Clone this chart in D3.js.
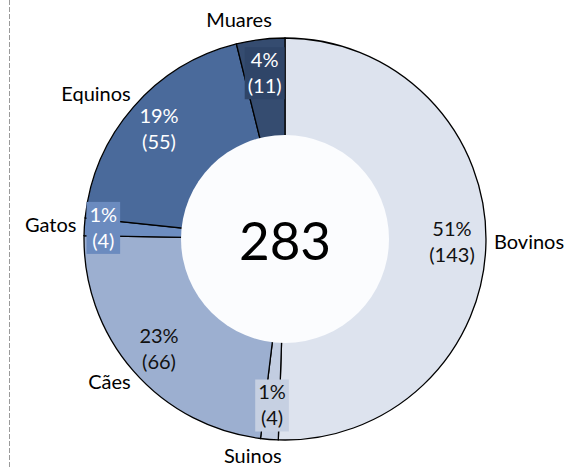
<!DOCTYPE html>
<html>
<head>
<meta charset="utf-8">
<script src="https://cdn.jsdelivr.net/npm/d3@7"></script>
<style>
  body { margin: 0; background: #fff; }
  svg { display: block; font-family: Lato, "Open Sans", sans-serif; }
</style>
</head>
<body>
<svg width="567" height="469"></svg>
<script>
// values, clockwise from 12 o'clock
var categories = ["Bovinos", "Suinos", "Cães", "Gatos", "Equinos", "Muares"];
var values = [143, 4, 66, 4, 55, 11];
var sliceColors = ["#dde3ee", "#c2cde1", "#9cafd0", "#6d8dc0", "#4a6a9b", "#354c70"];
var boxColors = ["none", "#c6d0e2", "none", "#6b8bbf", "none", "#2f4568"];
var textColors = ["#111", "#111", "#111", "#fff", "#fff", "#fff"];

var width = 567, height = 469;
var cx = 285, cy = 239, outerR = 201, innerR = 104;
var total = d3.sum(values);

var svg = d3.select("svg");

// dashed border on the left
svg.append("line")
  .attr("x1", 9.5).attr("x2", 9.5)
  .attr("y1", 0).attr("y2", height)
  .attr("stroke", "#9a9a9a")
  .attr("stroke-width", 1)
  .attr("stroke-dasharray", "5,2");

var data = categories.map(function(c, i) { return { name: c, value: values[i], i: i }; });

var pie = d3.pie().sort(null).value(function(d) { return d.value; });
var arcs = pie(data);

var arc = d3.arc().innerRadius(innerR - 4).outerRadius(outerR);
var labelArc = d3.arc().innerRadius(167).outerRadius(167);

var g = svg.append("g").attr("transform", "translate(" + cx + "," + cy + ")");

g.selectAll("path.slice")
  .data(arcs)
  .enter()
  .append("path")
  .attr("class", "slice")
  .attr("d", arc)
  .attr("fill", function(d) { return sliceColors[d.data.i]; })
  .attr("stroke", "#000")
  .attr("stroke-width", 1.3);

// hole
g.append("circle")
  .attr("r", innerR)
  .attr("fill", "#fbfcfe");

g.append("text")
  .attr("text-anchor", "middle")
  .attr("dy", "0.36em")
  .attr("y", 2)
  .style("font-size", "53px")
  .attr("fill", "#000")
  .text(total);

// data labels
var fmt = d3.format(".0%");
var lbl = g.selectAll("g.lbl")
  .data(arcs)
  .enter()
  .append("g")
  .attr("class", "lbl")
  .attr("transform", function(d) {
    var p = labelArc.centroid(d);
    if (d.data.name === "Gatos") p = [p[0] * 1.09, p[1] * 1.09];
    return "translate(" + p + ")";
  });

var boxes = lbl.filter(function(d) { return boxColors[d.data.i] !== "none"; })
  .append("rect")
  .attr("fill", function(d) { return boxColors[d.data.i]; });

lbl.append("text")
  .attr("text-anchor", "middle")
  .attr("y", -6)
  .style("font-size", "20px")
  .attr("fill", function(d) { return textColors[d.data.i]; })
  .text(function(d) { return fmt(d.data.value / total); });

lbl.append("text")
  .attr("text-anchor", "middle")
  .attr("y", 20)
  .style("font-size", "20px")
  .attr("fill", function(d) { return textColors[d.data.i]; })
  .text(function(d) { return "(" + d.data.value + ")"; });

// size each box to its two text lines
boxes.each(function() {
  var w = 0;
  d3.select(this.parentNode).selectAll("text").each(function() {
    w = Math.max(w, this.getBBox().width);
  });
  w += 6;
  d3.select(this)
    .attr("x", -w / 2).attr("y", -26)
    .attr("width", w).attr("height", 52);
});

// category labels outside the ring
g.selectAll("text.cat")
  .data(arcs)
  .enter()
  .append("text")
  .attr("class", "cat")
  .style("font-size", "20px")
  .attr("fill", "#000")
  .each(function(d) {
    var a = (d.startAngle + d.endAngle) / 2;
    var s = Math.sin(a), c = Math.cos(a);
    var r = 209;
    var x = r * s, y = -r * c;
    var anchor = s < 0 ? "end" : "start";
    x += (s < 0 ? 1 : -1) * 14 * (1 - Math.abs(s));
    y += -c * (c < 0 ? 9 : 11);
    d3.select(this)
      .attr("x", x).attr("y", y)
      .attr("dy", "0.33em")
      .attr("text-anchor", anchor)
      .text(d.data.name);
  });
</script>
</body>
</html>
